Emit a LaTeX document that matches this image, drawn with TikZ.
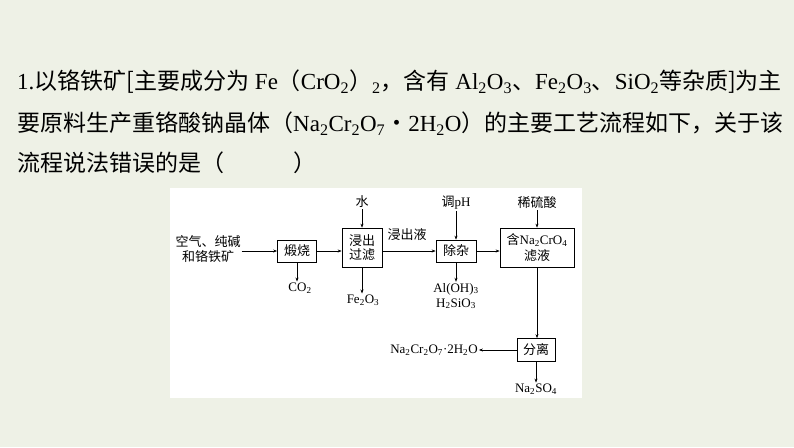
\documentclass[tikz,border=0pt]{standalone}
\usepackage{fontspec}
\setmainfont{Liberation Serif}
\newfontfamily\cjk{Noto Sans CJK SC}
\usetikzlibrary{arrows.meta}
\begin{document}
\begin{tikzpicture}[x=1pt,y=-1pt,
  box/.style={draw,line width=0.7pt,align=center,inner sep=0pt,font=\fontsize{13}{16}\selectfont},
  lab/.style={align=center,inner sep=1pt,font=\fontsize{13}{15}\selectfont},
  arr/.style={-{Stealth[length=4pt,width=3pt]},line width=0.6pt},
  q/.style={anchor=west,inner sep=0pt,font=\fontsize{23}{27}\selectfont}]
\fill[fill={rgb,255:red,238;green,241;blue,230}] (0,0) rectangle (794,447);
\useasboundingbox (0,0) rectangle (794,447);
\fill[white] (170,188) rectangle (582,398);
\node[q] (t1) at (17,82) {1.{\cjk 以铬铁矿[主要成分为} Fe{\cjk （}CrO\textsubscript{2}{\cjk ）}\textsubscript{2}{\cjk ，含有} Al\textsubscript{2}O\textsubscript{3}{\cjk 、}Fe\textsubscript{2}O\textsubscript{3}{\cjk 、}SiO\textsubscript{2}{\cjk 等杂质]为主}};
\node[q] (t2) at (17,124) {{\cjk 要原料生产重铬酸钠晶体（}Na\textsubscript{2}Cr\textsubscript{2}O\textsubscript{7}{\cjk ·}2H\textsubscript{2}O{\cjk ）的主要工艺流程如下，关于该}};
\node[q] (t3) at (17,163) {{\cjk 流程说法错误的是（\hspace{3em}）}};
\node[box,minimum width=39pt,minimum height=22pt] (b1) at (297,251) {\cjk 煅烧};
\node[box,minimum width=40pt,minimum height=39pt] (b2) at (362,247.5) {\cjk 浸出\\[-2pt]\cjk 过滤};
\node[box,minimum width=40pt,minimum height=22pt] (b3) at (456,251) {\cjk 除杂};
\node[box,minimum width=74pt,minimum height=39pt] (b4) at (537,247.5) {{\cjk 含}Na\textsubscript{2}CrO\textsubscript{4}\\\cjk 滤液};
\node[box,minimum width=38pt,minimum height=23pt] (b5) at (536,350) {\cjk 分离};
\node[lab] (in) at (208,249) {\cjk 空气、纯碱\\\cjk 和铬铁矿};
\node[lab] (w) at (362,202) {\cjk 水};
\node[lab] (ph) at (456,203) {{\cjk 调}pH};
\node[lab] (h) at (537,203) {\cjk 稀硫酸};
\node[lab] (lq) at (407,235) {\cjk 浸出液};
\node[lab] (co) at (300,288) {CO\textsubscript{2}};
\node[lab] (fe) at (363,300) {Fe\textsubscript{2}O\textsubscript{3}};
\node[lab] (al) at (456,296) {Al(OH)\textsubscript{3}\\H\textsubscript{2}SiO\textsubscript{3}};
\node[lab] (na) at (434,350) {Na\textsubscript{2}Cr\textsubscript{2}O\textsubscript{7}·2H\textsubscript{2}O};
\node[lab] (ns) at (536,389) {Na\textsubscript{2}SO\textsubscript{4}};
\draw[arr] (in.east|-b1.west) -- (b1.west);
\draw[arr] (b1.east) -- (b2.west|-b1.east);
\draw[arr] (b2.east|-b3.west) -- (b3.west);
\draw[arr] (b3.east) -- (b4.west|-b3.east);
\draw[arr] (w.south) -- (b2.north);
\draw[arr] (ph.south) -- (b3.north);
\draw[arr] (h.south) -- (b4.north);
\draw[arr] (b1.south) -- (co.north-|b1.south);
\draw[arr] (b2.south) -- (fe.north-|b2.south);
\draw[arr] (b3.south) -- (al.north-|b3.south);
\draw[arr] (b4.south) -- (b5.north-|b4.south);
\draw[arr] (b5.west) -- (na.east);
\draw[arr] (b5.south) -- (ns.north);
\end{tikzpicture}
\end{document}
